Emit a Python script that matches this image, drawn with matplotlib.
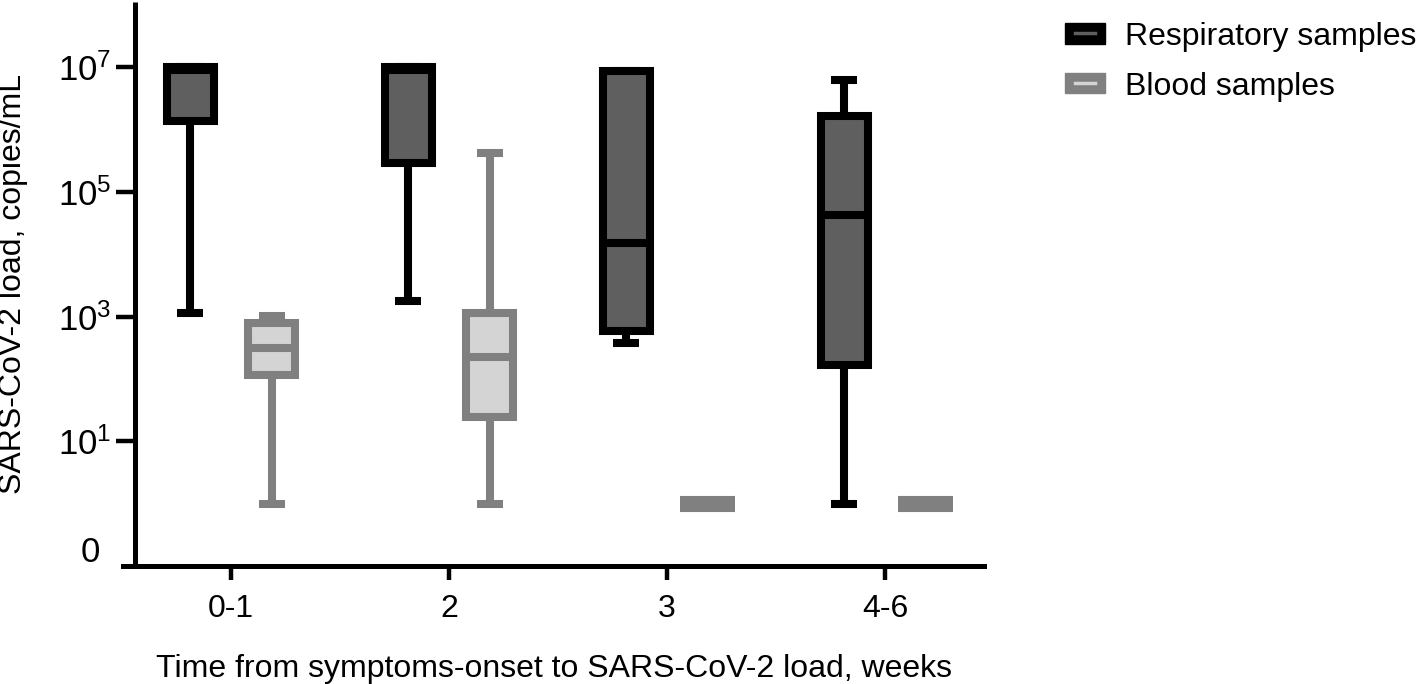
import matplotlib
matplotlib.use("Agg")
import matplotlib.pyplot as plt
from matplotlib.legend_handler import HandlerBase
from matplotlib.patches import Rectangle, Patch
from matplotlib.lines import Line2D

plt.rcParams['font.family'] = ['Liberation Sans', 'DejaVu Sans']
plt.rcParams['mathtext.fontset'] = 'custom'
plt.rcParams['mathtext.rm'] = 'Liberation Sans'
plt.rcParams['mathtext.it'] = 'Liberation Sans:italic'
plt.rcParams['mathtext.bf'] = 'Liberation Sans:bold'

# ---- data (copies/mL) ----
categories = ["0-1", "2", "3", "4-6"]
resp_min = [1.15e3, 1.8e3, 3.8e2, 1.0]
resp_q1 = [1.4e6, 2.9e5, 5.9e2, 1.65e2]
resp_med = [9.0e6, 9.0e6, 1.5e4, 4.3e4]
resp_q3 = [1.0e7, 1.0e7, 8.9e6, 1.65e6]
resp_max = [1.0e7, 1.0e7, 8.9e6, 6.3e6]

blood_min = [1.0, 1.0, 1.0, 1.0]
blood_q1 = [1.15e2, 2.45e1, 1.0, 1.0]
blood_med = [3.2e2, 2.25e2, 1.0, 1.0]
blood_q3 = [7.9e2, 1.15e3, 1.0, 1.0]
blood_max = [1.02e3, 4.3e5, 1.0, 1.0]

ytick_vals = [1e1, 1e3, 1e5, 1e7]
ytick_labels = [r"$10^{1}$", r"$10^{3}$", r"$10^{5}$", r"$10^{7}$"]
series_labels = ["Respiratory samples", "Blood samples"]
xlabel = "Time from symptoms-onset to SARS-CoV-2 load, weeks"
ylabel = "SARS-CoV-2 load, copies/mL"

# ---- style ----
DPI = 100
fig = plt.figure(figsize=(14.18, 6.84), dpi=DPI)
AX_L, AX_R, AX_T, AX_B = 123, 984, 2, 566
ax = fig.add_axes([AX_L/1418, 1 - AX_B/684, (AX_R - AX_L)/1418, (AX_B - AX_T)/684])

FS = 23
LW = 5.8
resp_edge, resp_fill = "#000000", "#5f5f5f"
blood_edge, blood_fill = "#808080", "#d4d4d4"
offset = 0.187
width = 0.215
capw = 0.12

def draw(stats_lists, pos_shift, edge, fill):
    mins, q1s, meds, q3s, maxs = stats_lists
    for i in range(len(categories)):
        st = dict(whislo=mins[i], q1=q1s[i], med=meds[i], q3=q3s[i], whishi=maxs[i])
        degenerate = q1s[i] == q3s[i]
        lw = LW * 2 if degenerate else LW
        w = width + 0.037 if degenerate else width
        ax.bxp([st], positions=[i + pos_shift], widths=[w], capwidths=[capw],
               showfliers=False, patch_artist=True,
               boxprops=dict(facecolor=fill, edgecolor=edge, linewidth=lw, joinstyle='miter'),
               medianprops=dict(color=edge, linewidth=LW, solid_capstyle='butt'),
               whiskerprops=dict(color=edge, linewidth=LW, solid_capstyle='butt'),
               capprops=dict(color=edge, linewidth=LW, solid_capstyle='butt'),
               manage_ticks=False, zorder=3)

draw((resp_min, resp_q1, resp_med, resp_q3, resp_max), -offset, resp_edge, resp_fill)
draw((blood_min, blood_q1, blood_med, blood_q3, blood_max), offset, blood_edge, blood_fill)

ax.set_yscale('log')
ax.set_ylim(10 ** -1.0, 10 ** 8.05)
x_left = (AX_L - 231) / 218
x_right = (AX_R - 231) / 218
ax.set_xlim(x_left, x_right)

ax.set_yticks(ytick_vals)
ax.set_yticklabels(ytick_labels)
ax.yaxis.set_minor_locator(matplotlib.ticker.NullLocator())
ax.set_xticks(range(len(categories)))
ax.set_xticklabels(categories)

for s in ['top', 'right']:
    ax.spines[s].set_visible(False)
ax.spines['left'].set_position(('data', (135 - 231) / 218))
ax.spines['left'].set_linewidth(3.6)
ax.spines['bottom'].set_linewidth(3.6)
ax.spines['left'].set_capstyle('butt')
ax.tick_params(axis='y', length=14, width=3.2, labelsize=25, pad=3, color='black')
ax.tick_params(axis='x', length=10, width=3.2, labelsize=FS, pad=10, color='black')

# the "0" label at the bottom of the axis
ax.text((100 - 231) / 218, 10 ** -0.78, "0", fontsize=25, ha='right', va='center')

ax.set_xlabel(xlabel, fontsize=FS, labelpad=22)
ax.set_ylabel(ylabel, fontsize=FS)
ax.yaxis.set_label_coords((28 - AX_L) / (AX_R - AX_L), 0.5)

# ---- legend ----
class BoxHandler(HandlerBase):
    def __init__(self, edge, inner):
        super().__init__()
        self.edge = edge
        self.inner = inner

    def create_artists(self, legend, orig_handle, xdescent, ydescent, width, height, fontsize, trans):
        r = Rectangle((-xdescent, -ydescent), width, height, facecolor=self.edge,
                      edgecolor=self.edge, transform=trans)
        yc = -ydescent + height / 2
        l = Line2D([-xdescent + width * 0.25, -xdescent + width * 0.75], [yc, yc],
                   color=self.inner, linewidth=2.5, transform=trans)
        return [r, l]

h1 = Patch(label=series_labels[0])
h2 = Patch(label=series_labels[1])
fig.legend(handles=[h1, h2], labels=series_labels,
           handler_map={h1: BoxHandler(resp_edge, resp_fill), h2: BoxHandler(blood_edge, blood_fill)},
           loc='upper left', bbox_to_anchor=(1036 / 1418, 1 + 7 / 684), frameon=False,
           fontsize=FS, handlelength=1.25, handleheight=0.6, handletextpad=0.65, labelspacing=0.62)

fig.savefig("out.png", dpi=DPI)
